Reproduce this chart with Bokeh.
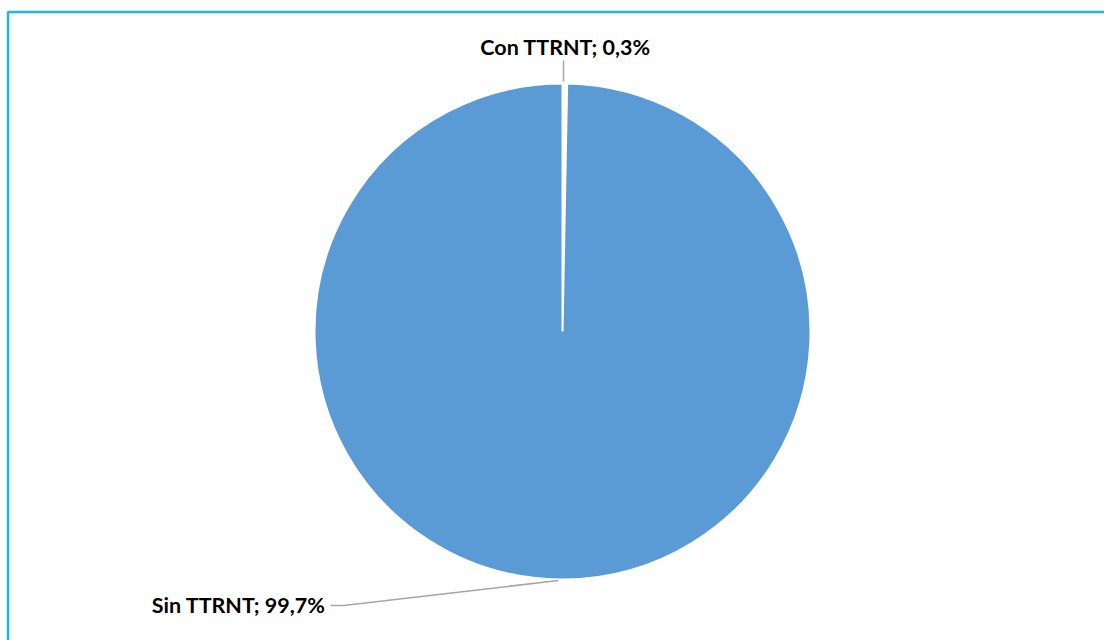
import math
from bokeh.plotting import figure
from bokeh.models import Range1d, ColumnDataSource
from bokeh.core.properties import value
from bokeh.embed import file_html
from bokeh.resources import INLINE

# data
categories = ["Con TTRNT", "Sin TTRNT"]
shares = [0.3, 99.7]
share_labels = ["0,3%", "99,7%"]
colors = ["#FFFFFF", "#5B9BD5"]

W, H = 1104, 640
p = figure(width=W, height=H, output_backend="svg", toolbar_location=None,
           x_range=Range1d(0, W), y_range=Range1d(0, H), min_border=0)
p.axis.visible = False
p.grid.visible = False
p.outline_line_color = None
p.background_fill_color = "white"
p.border_fill_color = "white"

cx, cy, r = 562, 640 - 331, 248
total = sum(shares)
starts, ends = [], []
a = math.pi / 2
for s in shares:
    starts.append(a)
    a = a - s / total * 2 * math.pi
    ends.append(a)
src = ColumnDataSource(dict(cat=categories, start=starts, end=ends, color=colors))
p.wedge(x=cx, y=cy, radius=r, start_angle="start", end_angle="end",
        direction="clock", fill_color="color", line_color="white", line_width=2,
        source=src)

# frame (cropped chart border)
p.line(x=[7.5, 7.5, W], y=[0, H - 11.5, H - 11.5], line_color="#1FB4EC", line_width=2.5)

# leader lines
p.line(x=[563, 563], y=[640 - 81, 640 - 60], line_color="#A6A6A6", line_width=1.5)
p.line(x=[558, 343, 330], y=[640 - 580, 640 - 605, 640 - 605], line_color="#A6A6A6", line_width=1.5)

texts = [f"{c}; {l}" for c, l in zip(categories, share_labels)]
p.text(x=[565], y=[640 - 46], text=[texts[0]], text_font=value("Lato"), text_font_style="bold",
       text_font_size="21.5px", text_align="center", text_baseline="middle", text_color="#000000")
p.text(x=[325], y=[640 - 604], text=[texts[1]], text_font=value("Lato"), text_font_style="bold",
       text_font_size="21.5px", text_align="right", text_baseline="middle", text_color="#000000")

open("out.html", "w").write(file_html(p, INLINE))
